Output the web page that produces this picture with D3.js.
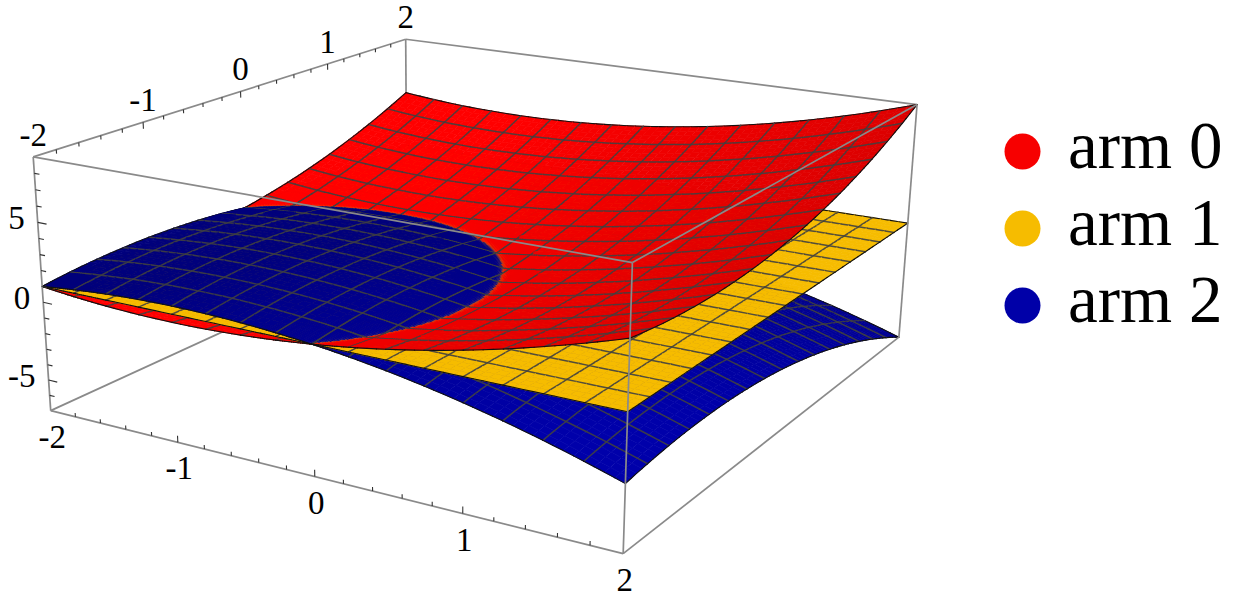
<!DOCTYPE html>
<html lang="en">
<head>
<meta charset="UTF-8">
<title>arms</title>
<script src="https://d3js.org/d3.v7.min.js"></script>
<style>
  body { margin: 0; background: #fff; }
  svg { display: block; }
  text { font-family: "Liberation Serif", serif; fill: #000; }
</style>
</head>
<body>
<svg></svg>
<script>
const width = 1252, height = 599;

// z values, rows are y = -2 .. 2, columns x = -2 .. 2 (step .5)
const arm0 = [
  [1, .625, .5, .625, 1, 1.625, 2.5, 3.625, 5],
  [.625, .25, .125, .25, .625, 1.25, 2.125, 3.25, 4.625],
  [.5, .125, 0, .125, .5, 1.125, 2, 3.125, 4.5],
  [.625, .25, .125, .25, .625, 1.25, 2.125, 3.25, 4.625],
  [1, .625, .5, .625, 1, 1.625, 2.5, 3.625, 5],
  [1.625, 1.25, 1.125, 1.25, 1.625, 2.25, 3.125, 4.25, 5.625],
  [2.5, 2.125, 2, 2.125, 2.5, 3.125, 4, 5.125, 6.5],
  [3.625, 3.25, 3.125, 3.25, 3.625, 4.25, 5.125, 6.25, 7.625],
  [5, 4.625, 4.5, 4.625, 5, 5.625, 6.5, 7.625, 9]
];
const arm1 = [
  [1, 1, 1, 1, 1, 1, 1, 1, 1],
  [1, 1, 1, 1, 1, 1, 1, 1, 1],
  [1, 1, 1, 1, 1, 1, 1, 1, 1],
  [1, 1, 1, 1, 1, 1, 1, 1, 1],
  [1, 1, 1, 1, 1, 1, 1, 1, 1],
  [1, 1, 1, 1, 1, 1, 1, 1, 1],
  [1, 1, 1, 1, 1, 1, 1, 1, 1],
  [1, 1, 1, 1, 1, 1, 1, 1, 1],
  [1, 1, 1, 1, 1, 1, 1, 1, 1]
];
const arm2 = [
  [1, 1.375, 1.5, 1.375, 1, .375, -.5, -1.625, -3],
  [1.375, 1.75, 1.875, 1.75, 1.375, .75, -.125, -1.25, -2.625],
  [1.5, 1.875, 2, 1.875, 1.5, .875, 0, -1.125, -2.5],
  [1.375, 1.75, 1.875, 1.75, 1.375, .75, -.125, -1.25, -2.625],
  [1, 1.375, 1.5, 1.375, 1, .375, -.5, -1.625, -3],
  [.375, .75, .875, .75, .375, -.25, -1.125, -2.25, -3.625],
  [-.5, -.125, 0, -.125, -.5, -1.125, -2, -3.125, -4.5],
  [-1.625, -1.25, -1.125, -1.25, -1.625, -2.25, -3.125, -4.25, -5.625],
  [-3, -2.625, -2.5, -2.625, -3, -3.625, -4.5, -5.625, -7]
];

const legendLabels = ["arm 0", "arm 1", "arm 2"];
const armColors = ["#f70000", "#f6bc00", "#0000a8"];
const xyTicks = [-2, -1, 0, 1, 2];
const zTicks = [-5, 0, 5];

// known points on the screen, used to fit the camera: x, y, z, px, py
const fitPoints = [
  [-2, -2, 9, 33.5, 157], [-2, 2, 9, 405, 41], [2, 2, 9, 917, 104.5], [2, -2, 9, 630, 262],
  [-2, -2, -7, 50, 409.5], [2, 2, -7, 897, 337], [2, -2, -7, 624, 555],
  [-1, -2, -7, 177, 442], [0, -2, -7, 315, 477], [1, -2, -7, 463, 513],
  [-2, -1, 9, 143, 123], [-2, 0, 9, 240, 90], [-2, 1, 9, 328, 62],
  [-2, -2, 1, 42, 287], [0, -2, 1, 315, 345], [2, -2, 1, 627, 412], [2, 2, 1, 910, 222.5],
  [-2, 2, 5, 406.5, 93.5]
];

const sx = d3.scaleLinear([-2, 2], [0, 1]);
const sz = d3.scaleLinear([-7, 9], [0, 1]);
const gridIdx = d3.scaleLinear([-2, 2], [0, 8]);

// least squares camera from the points
function solveCamera() {
  const A = [], b = [];
  fitPoints.forEach(c => {
    const X = sx(c[0]), Y = sx(c[1]), Z = sz(c[2]), u = c[3], v = c[4];
    A.push([X, Y, Z, 1, 0, 0, 0, 0, -u * X, -u * Y, -u * Z]); b.push(u);
    A.push([0, 0, 0, 0, X, Y, Z, 1, -v * X, -v * Y, -v * Z]); b.push(v);
  });
  const n = 11;
  const M = d3.range(n).map(i => d3.range(n + 1).map(j =>
    j < n ? d3.sum(A, r => r[i] * r[j]) : d3.sum(A, (r, k) => r[i] * b[k])));
  for (let i = 0; i < n; i++) {
    let p = i;
    for (let r = i + 1; r < n; r++) if (Math.abs(M[r][i]) > Math.abs(M[p][i])) p = r;
    [M[i], M[p]] = [M[p], M[i]];
    for (let r = 0; r < n; r++) {
      if (r === i) continue;
      const f = M[r][i] / M[i][i];
      for (let j = i; j <= n; j++) M[r][j] -= f * M[i][j];
    }
  }
  return M.map((r, i) => r[n] / r[i]);
}
const P = solveCamera();

function project(x, y, z) {
  const X = sx(x), Y = sx(y), Z = sz(z);
  const w = P[8] * X + P[9] * Y + P[10] * Z + 1;
  return [(P[0] * X + P[1] * Y + P[2] * Z + P[3]) / w, (P[4] * X + P[5] * Y + P[6] * Z + P[7]) / w, w];
}

// smooth lookup in a 9x9 table
function cubic(a, b, c, d, t) {
  return b + .5 * t * (c - a + t * (2 * a - 5 * b + 4 * c - d + t * (3 * (b - c) + d - a)));
}
function at(arr, i) {
  if (i < 0) return 3 * arr[0] - 3 * arr[1] + arr[2];
  if (i > 8) return 3 * arr[8] - 3 * arr[7] + arr[6];
  return arr[i];
}
function interp(arr, f) {
  const i = Math.min(7, Math.floor(f));
  return cubic(at(arr, i - 1), at(arr, i), at(arr, i + 1), at(arr, i + 2), f - i);
}
function zAt(grid, x, y) {
  const fx = gridIdx(x), fy = gridIdx(y);
  return interp(grid.map(row => interp(row, fx)), fy);
}

const line = d3.line();
const items = [];
const CELLS = 16, SUB = 4, SPLIT = 4;
const step = 4 / CELLS / SUB;
const dw = Math.abs(project(-2 + step, -2 + step, 1)[2] - project(-2, -2, 1)[2]);

const nearCross = (x, y) => Math.abs(zAt(arm0, x, y) - zAt(arm2, x, y)) < .7;

function shade(i, x, y) {
  const h = .01, g = [arm0, arm1, arm2][i];
  const dzx = (zAt(g, x + h, y) - zAt(g, x - h, y)) / (2 * h);
  const dzy = (zAt(g, x, y + h) - zAt(g, x, y - h)) / (2 * h);
  if (i === 0) return d3.interpolateRgb("#ff0000", "#dc0000")(Math.max(0, Math.min(1, dzx / 3)));
  if (i === 2) return d3.interpolateRgb("#00007c", "#0000aa")(Math.max(0, Math.min(1, (-dzx + .5 * dzy) / 3)));
  return armColors[1];
}

function addPatch(i, g, x0, x1, y0, y1, deep) {
  const xm = (x0 + x1) / 2, ym = (y0 + y1) / 2;
  if (!deep && nearCross(xm, ym)) {
    const dx = (x1 - x0) / SPLIT, dy = (y1 - y0) / SPLIT;
    for (let a = 0; a < SPLIT; a++) for (let b = 0; b < SPLIT; b++)
      addPatch(i, g, x0 + a * dx, x0 + (a + 1) * dx, y0 + b * dy, y0 + (b + 1) * dy, true);
    return;
  }
  const pts = [[x0, y0], [x1, y0], [x1, y1], [x0, y1]].map(p => project(p[0], p[1], zAt(g, p[0], p[1])));
  const col = shade(i, xm, ym);
  items.push({
    d: line(pts.map(p => [p[0], p[1]])) + "Z", fill: col, stroke: col, sw: .7, op: 1,
    w: project(xm, ym, zAt(g, xm, ym))[2]
  });
}

function addSeg(g, x0, y0, x1, y1, color, sw, op, deep) {
  const xm = (x0 + x1) / 2, ym = (y0 + y1) / 2;
  if (!deep && nearCross(xm, ym)) {
    for (let a = 0; a < SPLIT; a++)
      addSeg(g, x0 + (x1 - x0) * a / SPLIT, y0 + (y1 - y0) * a / SPLIT, x0 + (x1 - x0) * (a + 1) / SPLIT, y0 + (y1 - y0) * (a + 1) / SPLIT, color, sw, op, true);
    return;
  }
  const a = project(x0, y0, zAt(g, x0, y0)), b = project(x1, y1, zAt(g, x1, y1));
  items.push({
    d: line([a, b].map(p => [p[0], p[1]])), fill: "none", stroke: color, sw: sw, op: op,
    w: project(xm, ym, zAt(g, xm, ym))[2] - (deep ? .8 : 2.5) * dw
  });
}

[arm0, arm1, arm2].forEach((g, i) => {
  const n = CELLS * SUB;
  for (let a = 0; a < n; a++) for (let b = 0; b < n; b++)
    addPatch(i, g, -2 + a * step, -2 + (a + 1) * step, -2 + b * step, -2 + (b + 1) * step, false);
  for (let k = 0; k <= CELLS; k++) {
    const t = -2 + k * 4 / CELLS;
    const edge = k === 0 || k === CELLS;
    const col = edge ? "#111111" : "#404040";
    const sw = edge ? 1.1 : 1.5;
    const op = edge ? 1 : .9;
    for (let a = 0; a < n; a++) {
      const s0 = -2 + a * step, s1 = s0 + step;
      addSeg(g, s0, t, s1, t, col, sw, op, false);
      addSeg(g, t, s0, t, s1, col, sw, op, false);
    }
  }
});
items.sort((a, b) => b.w - a.w);

const svg = d3.select("svg").attr("width", width).attr("height", height);

const boxColor = "#8a8a8a";
function boxLines(group, list) {
  group.selectAll("path").data(list).join("path")
    .attr("d", d => line([project(...d[0]), project(...d[1])].map(p => [p[0], p[1]])))
    .attr("fill", "none").attr("stroke", boxColor).attr("stroke-width", 1.7);
}

boxLines(svg.append("g"), [
  [[-2, -2, -7], [-2, 2, -7]], [[-2, 2, -7], [2, 2, -7]], [[-2, 2, -7], [-2, 2, 9]],
  [[-2, -2, 9], [-2, 2, 9]], [[-2, 2, 9], [2, 2, 9]]
]);

svg.append("g").selectAll("path").data(items).join("path")
  .attr("d", d => d.d)
  .attr("fill", d => d.fill)
  .attr("stroke", d => d.stroke)
  .attr("stroke-width", d => d.sw)
  .attr("stroke-opacity", d => d.op)
  .attr("stroke-linecap", "round")
  .attr("stroke-linejoin", "round");

boxLines(svg.append("g"), [
  [[-2, -2, 9], [-2, -2, -7]], [[-2, -2, 9], [2, -2, 9]], [[2, -2, 9], [2, 2, 9]],
  [[2, -2, 9], [2, -2, -7]], [[2, 2, 9], [2, 2, -7]], [[-2, -2, -7], [2, -2, -7]], [[2, -2, -7], [2, 2, -7]]
]);

// ticks
const tickG = svg.append("g").attr("stroke", "#333").attr("fill", "none");
function tick(a, b, w) {
  const p = project(...a), q = project(...b);
  tickG.append("path").attr("d", line([[p[0], p[1]], [q[0], q[1]]])).attr("stroke-width", w);
}
d3.range(-2, 2.01, .2).forEach((v, i) => {
  const major = i % 5 === 0;
  if (i === 0 || i === 20) return;
  tick([v, -2, -7], [v, -2, -7 + (major ? .42 : .25)], 1.1);
  tick([-2, v, 9], [-2, v, 9 - (major ? .42 : .25)], 1.1);
});
d3.range(-6, 9).forEach(v => {
  const major = v % 5 === 0;
  tick([-2, -2, v], [-2 + (major ? .07 : .04), -2, v], 1.1);
});

const labels = svg.append("g").attr("font-size", 33);
labels.selectAll(".xl").data(xyTicks).join("text")
  .attr("x", d => project(d, -2, -7)[0] + 1.5)
  .attr("y", d => project(d, -2, -7)[1] + 37)
  .attr("text-anchor", "middle").text(d => d);
labels.selectAll(".yl").data(xyTicks).join("text")
  .attr("x", d => project(-2, d, 9)[0])
  .attr("y", d => project(-2, d, 9)[1] - 11)
  .attr("text-anchor", "middle").text(d => d);
labels.selectAll(".zl").data(zTicks).join("text")
  .attr("x", d => project(-2, -2, d)[0] - 13)
  .attr("y", d => project(-2, -2, d)[1] + 7)
  .attr("text-anchor", "end").text(d => d);

// legend
const legendY = d3.scalePoint(legendLabels, [168, 322]);
const legend = svg.append("g");
legend.selectAll("circle").data(legendLabels).join("circle")
  .attr("cx", 1022.5).attr("cy", d => legendY(d) - 16.5).attr("r", 18)
  .attr("fill", (d, i) => armColors[i]);
legend.selectAll("text").data(legendLabels).join("text")
  .attr("x", 1068).attr("y", d => legendY(d))
  .attr("font-size", 67).text(d => d);
</script>
</body>
</html>
